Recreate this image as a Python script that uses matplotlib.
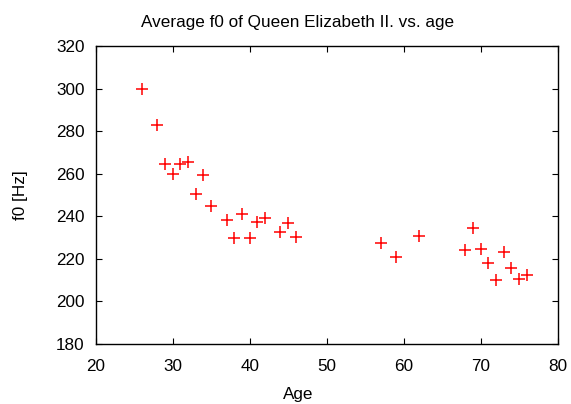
import matplotlib
matplotlib.use("Agg")
import matplotlib.pyplot as plt

plt.rcParams['font.family'] = ['Liberation Sans', 'DejaVu Sans']

# age of the queen at recording, average f0
age = [26, 28, 29, 30, 31, 32, 33, 34, 35, 37, 38, 39, 40, 41, 42,
       44, 45, 46, 57, 59, 62, 68, 69, 70, 71, 72, 73, 74, 75, 76]
f0 = [299.7, 283.0, 264.6, 259.9, 264.7, 265.5, 250.6, 259.3, 245.0, 238.1,
      229.7, 241.1, 229.7, 237.3, 239.4, 232.5, 237.0, 230.1, 227.3, 221.0,
      230.9, 224.3, 234.5, 224.7, 218.1, 210.1, 223.1, 215.6, 210.6, 212.3]

xticks = [20, 30, 40, 50, 60, 70, 80]
yticks = [180, 200, 220, 240, 260, 280, 300, 320]

fs = 12.3

fig = plt.figure(figsize=(5.71, 4.04), dpi=100)
ax = fig.add_axes([0.1676, 0.1485, 0.8091, 0.7376])

ax.plot(age, f0, linestyle='none', marker='+', color='#ff0000',
        markersize=8, markeredgewidth=1.1)

ax.set_xlim(20, 80)
ax.set_ylim(180, 320)
ax.set_xticks(xticks)
ax.set_yticks(yticks)
ax.tick_params(direction='in', top=True, right=True, length=4, width=0.8,
               labelsize=fs)
ax.tick_params(axis='x', pad=11)
ax.tick_params(axis='y', pad=8)
for s in ax.spines.values():
    s.set_linewidth(1.0)

# gnuplot puts the title and xlabel a bit left of the plot centre
ax.set_xlabel('Age', fontsize=fs, labelpad=9, x=0.438)
ax.set_ylabel('f0 [Hz]', fontsize=fs, labelpad=20)
ax.set_title('Average f0 of Queen Elizabeth II. vs. age', fontsize=fs,
             pad=14, x=0.438)

fig.savefig('out.png', dpi=100)
